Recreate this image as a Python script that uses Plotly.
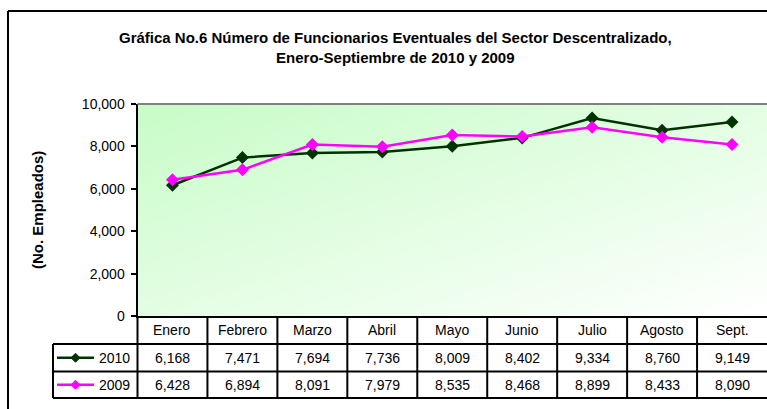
import base64
import struct
import zlib

import plotly.graph_objects as go

# ---------------- data ----------------
months = ["Enero", "Febrero", "Marzo", "Abril", "Mayo", "Junio", "Julio", "Agosto", "Sept."]
series_names = ["2010", "2009"]
values_2010 = [6168, 7471, 7694, 7736, 8009, 8402, 9334, 8760, 9149]
values_2009 = [6428, 6894, 8091, 7979, 8535, 8468, 8899, 8433, 8090]
y_ticks = [0, 2000, 4000, 6000, 8000, 10000]

# ---------------- geometry helpers ----------------
W, H = 767, 409


def px(x):
    return x / W


def py(y):
    return 1 - y / H


PL, PR, PT, PB = 137.5, 767.0, 104.0, 316.0
ROW_HDR, ROW_A, ROW_B = 344.0, 371.5, 398.0
FONT = "Liberation Sans, Arial, sans-serif"
C2010 = "#003300"
C2009 = "#ff00ff"


def gradient_png(w, h, c0, c1):
    rows = b""
    for j in range(h):
        row = bytearray([0])
        for i in range(w):
            t = (i / (w - 1) + j / (h - 1)) / 2.0
            for k in range(3):
                row.append(int(round(c0[k] + (c1[k] - c0[k]) * t)))
        rows += bytes(row)

    def chunk(tag, data):
        c = struct.pack(">I", len(data)) + tag + data
        return c + struct.pack(">I", zlib.crc32(tag + data) & 0xFFFFFFFF)

    png = b"\x89PNG\r\n\x1a\n"
    png += chunk(b"IHDR", struct.pack(">IIBBBBB", w, h, 8, 2, 0, 0, 0))
    png += chunk(b"IDAT", zlib.compress(rows, 9))
    png += chunk(b"IEND", b"")
    return "data:image/png;base64," + base64.b64encode(png).decode()


def label(x, y, text, size=14, xref="paper", xanchor="center", bold=False, angle=0):
    return dict(xref=xref, yref="paper", x=x, y=y, text=f"<b>{text}</b>" if bold else text,
                showarrow=False, xanchor=xanchor, yanchor="middle", textangle=angle,
                font=dict(family=FONT, size=size, color="black"), align="center")


fig = go.Figure()
for name, vals, col in [(series_names[0], values_2010, C2010), (series_names[1], values_2009, C2009)]:
    fig.add_trace(go.Scatter(
        x=months, y=vals, name=name, mode="lines+markers",
        line=dict(color=col, width=2.5),
        marker=dict(symbol="diamond", size=10, color=col),
        hoverinfo="x+y+name",
    ))

black = dict(color="black", width=2)
shapes = []
# outer frame
shapes.append(dict(type="line", xref="paper", yref="paper", x0=px(8), x1=px(8), y0=py(11), y1=0, line=black))
shapes.append(dict(type="line", xref="paper", yref="paper", x0=px(8), x1=1, y0=py(11), y1=py(11), line=black))
# grey top of plot area
shapes.append(dict(type="line", xref="paper", yref="paper", x0=px(PL), x1=1, y0=py(PT), y1=py(PT),
                   line=dict(color="#808080", width=2)))
# table horizontal lines
for yy in [ROW_HDR, ROW_A, ROW_B]:
    shapes.append(dict(type="line", xref="paper", yref="paper", x0=px(53), x1=1, y0=py(yy), y1=py(yy), line=black))
# legend column left border and table left edge
shapes.append(dict(type="line", xref="paper", yref="paper", x0=px(53), x1=px(53), y0=py(ROW_HDR), y1=py(ROW_B), line=black))
shapes.append(dict(type="line", xref="paper", yref="paper", x0=px(PL), x1=px(PL), y0=py(PB), y1=py(ROW_B), line=black))
# column separators (category boundaries)
for k in range(1, len(months)):
    shapes.append(dict(type="line", xref="x", yref="paper", x0=k - 0.5, x1=k - 0.5, y0=py(PB), y1=py(ROW_B), line=black))

annotations = []
annotations.append(label(px(395), py(47.5),
                         "Gráfica No.6 Número de Funcionarios Eventuales del Sector Descentralizado,<br>"
                         "Enero-Septiembre de 2010 y 2009", size=15, bold=True))
annotations.append(label(px(37), py(210), "(No. Empleados)", size=15, bold=True, angle=-90))

rows_y = [(ROW_HDR + ROW_A) / 2, (ROW_A + ROW_B) / 2]
for i, m in enumerate(months):
    annotations.append(label(m, py((PB + ROW_HDR) / 2), m, xref="x"))
    for vals, yy in [(values_2010, rows_y[0]), (values_2009, rows_y[1])]:
        annotations.append(label(m, py(yy), f"{vals[i]:,}", xref="x"))

# legend keys inside the table
for name, col, yy in [(series_names[0], C2010, rows_y[0]), (series_names[1], C2009, rows_y[1])]:
    shapes.append(dict(type="line", xref="paper", yref="paper", x0=px(57), x1=px(94), y0=py(yy), y1=py(yy),
                       line=dict(color=col, width=2.5)))
    cx, r = 75.5, 4.5
    path = (f"M {px(cx - r)},{py(yy)} L {px(cx)},{py(yy - r)} L {px(cx + r)},{py(yy)} "
            f"L {px(cx)},{py(yy + r)} Z")
    shapes.append(dict(type="path", xref="paper", yref="paper", path=path, fillcolor=col,
                       line=dict(color=col, width=1)))
    annotations.append(label(px(97), py(yy), name, xanchor="left"))

fig.update_layout(
    width=W, height=H,
    autosize=False,
    margin=dict(l=0, r=0, t=0, b=0, pad=0, autoexpand=False),
    paper_bgcolor="white",
    plot_bgcolor="rgba(0,0,0,0)",
    showlegend=False,
    font=dict(family=FONT, size=14, color="black"),
    xaxis=dict(domain=[px(PL), 1], type="category", range=[-0.5, len(months) - 0.5],
               showticklabels=False, showline=True, linecolor="black", linewidth=2,
               showgrid=False, zeroline=False, ticks="", automargin=False),
    yaxis=dict(domain=[py(PB), py(PT)], range=[0, 10000], tickvals=y_ticks, tickformat=",d",
               ticks="outside", ticklen=5, tickwidth=2, tickcolor="black", ticklabelstandoff=3,
               showline=True, linecolor="black", linewidth=2, showgrid=False, zeroline=False,
               automargin=False, tickfont=dict(family=FONT, size=14, color="black")),
    images=[dict(source=gradient_png(96, 48, (200, 252, 200), (255, 255, 255)),
                 xref="paper", yref="paper", x=px(PL), y=py(PT), sizex=1 - px(PL), sizey=py(PT) - py(PB),
                 xanchor="left", yanchor="top", sizing="stretch", layer="below")],
    shapes=shapes,
    annotations=annotations,
)

fig.write_html(
    "out.html",
    config={"displayModeBar": False},
    post_script="document.documentElement.style.margin='0';document.body.style.margin='0';"
                "document.body.style.overflow='hidden';",
)
